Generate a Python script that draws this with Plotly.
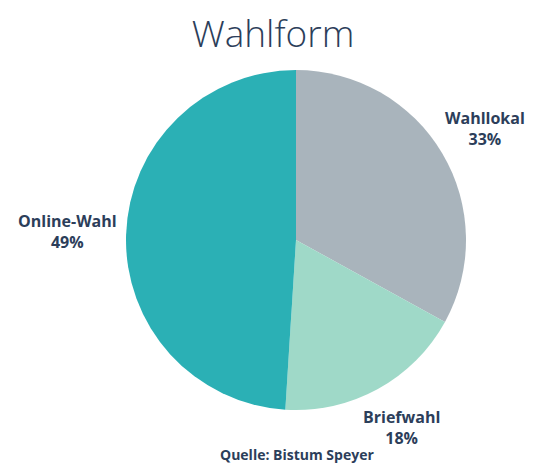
import math
import plotly.graph_objects as go

labels = ["Wahllokal", "Briefwahl", "Online-Wahl"]
values = [33, 18, 49]
colors = ["#a9b4bc", "#9fd9c8", "#2bb0b5"]

# browser body margin (8px) compensation: figure is drawn at offset (8, 8)
OFF = 8
W, H = 547 - 2 * OFF, 472 - 2 * OFF
CX, CY, R = 296 - OFF, 240 - OFF, 170
LABEL_K = 1.27
TEXT = "#2c3e5a"
FONT = "Open Sans"
LABEL_SIZE = 16
CHAR_W = 0.3 * LABEL_SIZE  # rough half-width per character for side offset

fig = go.Figure(go.Pie(
    labels=labels, values=values, sort=False, direction="clockwise", rotation=0,
    marker=dict(colors=colors, line=dict(width=0)),
    textinfo="none", hoverinfo="label+percent",
    domain=dict(x=[(CX - R) / W, (CX + R) / W], y=[1 - (CY + R) / H, 1 - (CY - R) / H]),
    showlegend=False,
))

total = sum(values)
cum = 0
annotations = []
for lab, v in zip(labels, values):
    mid = (cum + v / 2) / total * 2 * math.pi
    cum += v
    s, c = math.sin(mid), math.cos(mid)
    px = CX + LABEL_K * R * s + s * (len(lab) * CHAR_W - 40)
    py = CY - LABEL_K * R * c - 2
    annotations.append(dict(
        x=px / W, y=1 - py / H, xref="paper", yref="paper", showarrow=False,
        text=f"<b>{lab}<br>{round(v / total * 100)}%</b>",
        font=dict(family=FONT, size=LABEL_SIZE, color=TEXT), align="center",
        xanchor="center", yanchor="middle",
    ))

annotations.append(dict(
    x=(297 - OFF) / W, y=1 - (454 - OFF) / H, xref="paper", yref="paper", showarrow=False,
    text="<b>Quelle: Bistum Speyer</b>", font=dict(family=FONT, size=14, color=TEXT),
    xanchor="center", yanchor="middle",
))

fig.update_layout(
    width=W, height=H, margin=dict(l=0, r=0, t=0, b=0),
    paper_bgcolor="white", plot_bgcolor="white",
    title=dict(text="Wahlform", x=(273 - OFF) / W, xanchor="center", y=1 - (34 - OFF) / H, yanchor="middle",
               font=dict(family=FONT, size=37, color=TEXT, weight=300)),
    annotations=annotations,
)

fig.write_html("out.html")
